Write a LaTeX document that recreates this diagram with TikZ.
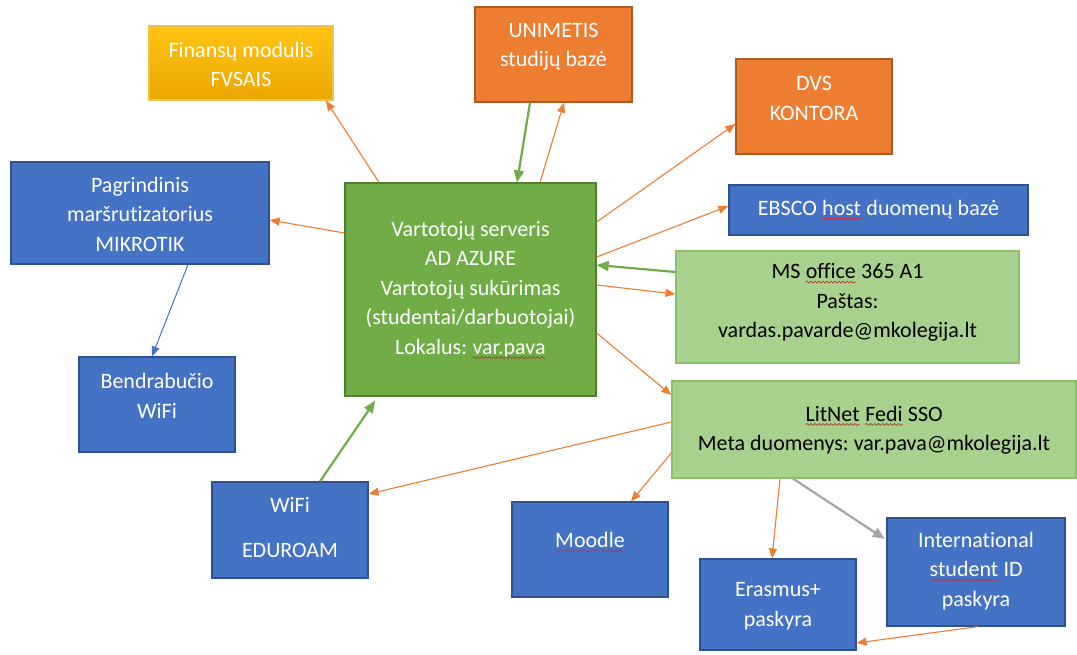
\documentclass[tikz,border=0pt]{standalone}
\usepackage{fontspec}
\setmainfont{Carlito}[Ligatures=NoCommon]
\frenchspacing
\usetikzlibrary{arrows.meta,decorations.pathmorphing}
\definecolor{cblue}{HTML}{4472C4}
\definecolor{cblueD}{HTML}{2F528F}
\definecolor{corange}{HTML}{ED7D31}
\definecolor{corangeD}{HTML}{AE5A21}
\definecolor{cgreen}{HTML}{70AD47}
\definecolor{cgreenD}{HTML}{507E32}
\definecolor{clgreen}{HTML}{A9D18E}
\definecolor{clgreenD}{HTML}{8CBF6A}
\definecolor{cyelT}{HTML}{FFC513}
\definecolor{cyelB}{HTML}{EBA600}
\definecolor{cgray}{HTML}{A5A5A5}
\definecolor{squig}{HTML}{C8303C}
\newcommand\sqw[1]{\tikz[baseline=(sqwrd.base)]{\node[inner sep=0pt,outer sep=0pt] (sqwrd) {#1};
  \draw[squig, line width=0.7pt, decorate, decoration={snake,amplitude=1pt,segment length=4pt}]
    ([yshift=-3.5pt]sqwrd.base west) -- ([yshift=-3.5pt]sqwrd.base east);}}
\tikzset{
  box/.style={rectangle, inner sep=0pt, line width=1.2pt},
  bluebox/.style={box, fill=cblue, draw=cblueD},
  orangebox/.style={box, fill=corange, draw=corangeD},
  greenbox/.style={box, fill=cgreen, draw=cgreenD},
  lgreenbox/.style={box, fill=clgreen, draw=clgreenD},
  yellowbox/.style={box, top color=cyelT, bottom color=cyelB, draw=cyelB!70!white},
  txt/.style={align=center, inner sep=0pt, font=\fontsize{22}{29.5}\selectfont},
  wtxt/.style={txt, text=white},
  ktxt/.style={txt, text=black},
  oarr/.style={draw=corange, line width=1.1pt, -{Triangle[length=10pt,width=8pt]}},
  garr/.style={draw=cgreen, line width=2.2pt, -{Triangle[length=12pt,width=10pt]}},
  barr/.style={draw=cblue, line width=1pt, -{Triangle[length=10pt,width=8pt]}},
  grarr/.style={draw=cgray, line width=2.2pt, -{Triangle[length=12pt,width=10pt]}},
}
\begin{document}
\begin{tikzpicture}[x=1pt,y=-1pt]
\fill[white] (0,0) rectangle (1077,654);
\useasboundingbox (0,0) rectangle (1077,654);

% boxes
\node[yellowbox, minimum width=184pt, minimum height=74pt] (fin) at (241,63) {};
\node[orangebox, minimum width=157pt, minimum height=95pt] (uni) at (553.5,54.5) {};
\node[orangebox, minimum width=156pt, minimum height=95pt] (dvs) at (814,106.5) {};
\node[bluebox, minimum width=258pt, minimum height=102pt] (pag) at (140,213) {};
\node[bluebox, minimum width=299pt, minimum height=50pt] (ebsco) at (878.5,210) {};
\node[greenbox, minimum width=251pt, minimum height=213pt] (srv) at (470.5,289.5) {};
\node[lgreenbox, minimum width=343pt, minimum height=112pt] (ms) at (847.5,307) {};
\node[bluebox, minimum width=156pt, minimum height=95pt] (ben) at (157,404.5) {};
\node[lgreenbox, minimum width=404pt, minimum height=97pt] (lit) at (874,429.5) {};
\node[bluebox, minimum width=156pt, minimum height=96pt] (wifi) at (290,530) {};
\node[bluebox, minimum width=156pt, minimum height=95pt] (moo) at (590,549.5) {};
\node[bluebox, minimum width=156pt, minimum height=91pt] (era) at (778,604.5) {};
\node[bluebox, minimum width=178pt, minimum height=108pt] (int) at (976,572) {};

% texts
\node[wtxt] (finT) at (241,64.5) {Finansų modulis\\FVSAIS};
\node[wtxt] (uniT) at (553.5,46.5) {UNIMETIS\\studijų bazė};
\node[wtxt] (dvsT) at (814,98.5) {DVS\\KONTORA};
\node[wtxt] (pagT) at (140,214) {Pagrindinis\\maršrutizatorius\\MIKROTIK};
\node[wtxt] (ebscoT) at (878.5,210) {EBSCO \sqw{host} duomenų bazė};
\node[wtxt] (srvT) at (470.5,290) {Vartotojų serveris\\AD AZURE\\Vartotojų sukūrimas\\(studentai/darbuotojai)\\Lokalus: \sqw{var.pava}};
\node[ktxt] (msT) at (847.5,302.5) {MS \sqw{office} 365 A1\\Paštas:\\vardas.pavarde@mkolegija.lt};
\node[wtxt] (benT) at (157,396) {Bendrabučio\\WiFi};
\node[ktxt] (litT) at (874,430) {\sqw{LitNet} \sqw{Fedi} SSO\\Meta duomenys: var.pava@mkolegija.lt};
\node[wtxt] (wifiT) at (290,527.5) {WiFi\\[15.5pt]EDUROAM};
\node[wtxt] (mooT) at (590,542) {\sqw{Moodle}};
\node[wtxt] (eraT) at (778,606) {Erasmus+\\paskyra};
\node[wtxt] (intT) at (976,571) {International\\\sqw{student} ID\\paskyra};

% connectors
\draw[oarr] ([xshift=-91.5pt]srv.north) -- ([xshift=85pt]fin.south);
\draw[oarr] ([yshift=56.5pt]srv.west) -- ([yshift=-7pt]pag.east);
\draw[barr] ([xshift=48pt]pag.south) -- ([xshift=-5pt]ben.north);
\draw[garr] ([xshift=-23.5pt]uni.south) -- ([xshift=46.5pt]srv.north);
\draw[oarr] ([xshift=69.5pt]srv.north) -- ([xshift=10.5pt]uni.south);
\draw[oarr] ([yshift=67.5pt]srv.east) -- ([yshift=-17.5pt]dvs.west);
\draw[oarr] ([yshift=32.5pt]srv.east) -- ([yshift=4pt]ebsco.west);
\draw[garr] ([yshift=35pt]ms.west) -- ([yshift=24.5pt]srv.east);
\draw[oarr] ([yshift=4.5pt]srv.east) -- ([yshift=13pt]ms.west);
\draw[oarr] ([yshift=-43.5pt]srv.east) -- ([yshift=34.5pt]lit.west);
\draw[oarr] ([yshift=7.5pt]lit.west) -- ([yshift=36pt]wifi.east);
\draw[garr, shorten >=5pt] ([xshift=30pt]wifi.north) -- ([xshift=-92.5pt]srv.south);
\draw[oarr] ([yshift=-23.5pt]lit.west) -- ([xshift=41pt]moo.north);
\draw[oarr] ([xshift=-94pt]lit.south) -- ([xshift=-6pt]era.north);
\draw[grarr, shorten >=2pt] ([xshift=-81pt]lit.south) -- ([yshift=32pt]int.west);
\draw[oarr] ([xshift=2pt]int.south) -- ([yshift=-38.5pt]era.east);
\end{tikzpicture}
\end{document}
